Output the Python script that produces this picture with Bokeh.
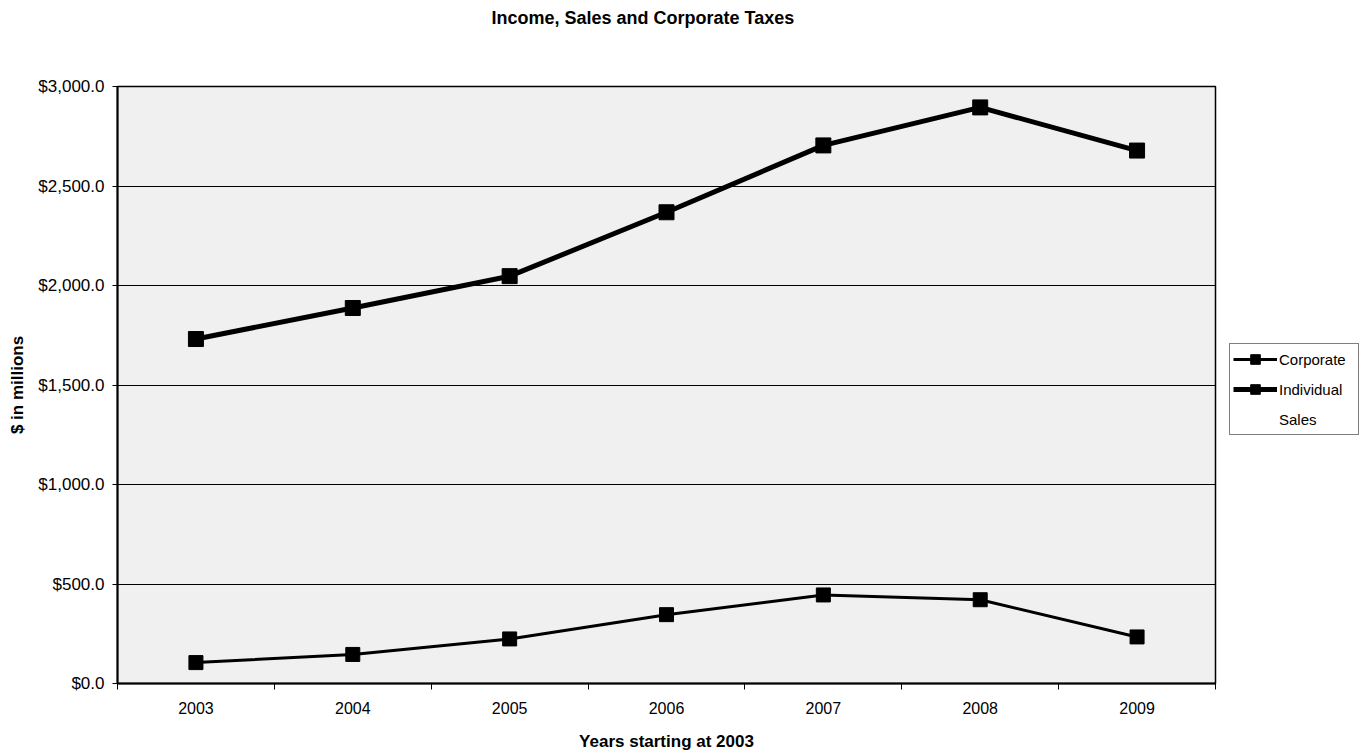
from bokeh.plotting import figure
from bokeh.layouts import row
from bokeh.models import (Range1d, FixedTicker, NumeralTickFormatter, Legend, LegendItem,
                          ColumnDataSource, Title)
from bokeh.embed import file_html
from bokeh.resources import INLINE

years = ["2003", "2004", "2005", "2006", "2007", "2008", "2009"]
corporate = [105, 146, 224, 346, 445, 421, 234]
individual = [1731, 1887, 2047, 2368, 2704, 2895, 2678]
sales = []  # not drawn in the reference chart (legend only)
y_ticks = [0, 500, 1000, 1500, 2000, 2500, 3000]
series_names = ["Corporate", "Individual", "Sales"]

xpos = [i + 0.5 for i in range(len(years))]

FONT = "Liberation Sans"

p = figure(width=1229, height=753, output_backend="svg", toolbar_location=None,
           x_range=Range1d(0, len(years)), y_range=Range1d(0, 3000),
           min_border_left=117, min_border_right=14, min_border_top=85, min_border_bottom=70,
           background_fill_color="#f0f0f0", border_fill_color="white")

# spacer between title and plot area, then the title itself (outermost)
spacer = Title(text=" ", text_font_size="1px", standoff=51)
p.add_layout(spacer, "above")
title = Title(text="Income, Sales and  Corporate Taxes", text_font=FONT, text_font_size="18px",
              text_font_style="bold", text_color="black", align="left", offset=374, standoff=10)
p.add_layout(title, "above")

p.outline_line_color = "black"
p.outline_line_width = 1.5
p.outline_line_alpha = 1.0

# X axis
p.xaxis.ticker = FixedTicker(ticks=xpos, minor_ticks=list(range(len(years) + 1)))
p.xaxis.major_label_overrides = {x: y for x, y in zip(xpos, years)}
p.xaxis.major_tick_out = 0
p.xaxis.major_tick_in = 0
p.xaxis.minor_tick_out = 6
p.xaxis.minor_tick_in = 0
p.xaxis.axis_label = "Years starting at 2003"
p.xaxis.major_label_standoff = 12
p.xaxis.axis_label_standoff = 15
p.xgrid.visible = False

# Y axis
p.yaxis.ticker = FixedTicker(ticks=y_ticks, minor_ticks=[])
p.yaxis.formatter = NumeralTickFormatter(format="$0,0.0")
p.yaxis.major_tick_out = 5
p.yaxis.major_tick_in = 0
p.yaxis.axis_label = "$ in millions"
p.yaxis.major_label_standoff = 8
p.yaxis.axis_label_standoff = 8
p.ygrid.grid_line_color = "black"
p.ygrid.grid_line_width = 1

for ax in (p.xaxis, p.yaxis):
    ax.axis_line_color = "black"
    ax.axis_line_width = 2
    ax.major_tick_line_color = "black"
    ax.minor_tick_line_color = "black"
    ax.major_label_text_font = FONT
    ax.major_label_text_color = "black"
    ax.axis_label_text_font = FONT
    ax.axis_label_text_font_size = "17px"
    ax.axis_label_text_font_style = "bold"
    ax.axis_label_text_color = "black"
p.xaxis.major_label_text_font_size = "16px"
p.yaxis.major_label_text_font_size = "17px"

src_c = ColumnDataSource(dict(x=xpos, y=corporate))
src_i = ColumnDataSource(dict(x=xpos, y=individual))
src_s = ColumnDataSource(dict(x=xpos[:len(sales)], y=sales))

STY_C = dict(line_color="black", line_width=3)
STY_I = dict(line_color="black", line_width=5)
MK_C = dict(marker="square", size=14, fill_color="black", line_color="black")
MK_I = dict(marker="square", size=15, fill_color="black", line_color="black")

p.line("x", "y", source=src_c, **STY_C)
p.scatter("x", "y", source=src_c, **MK_C)
p.line("x", "y", source=src_i, **STY_I)
p.scatter("x", "y", source=src_i, **MK_I)
p.line("x", "y", source=src_s, line_color="white", line_width=2, line_alpha=0)

# Legend panel to the right of the plot area; its renderers share the series'
# sources, but its own ranges keep the data out of view so only the legend shows.
lp = figure(width=137, height=753, output_backend="svg", toolbar_location=None,
            x_range=Range1d(0, 1), y_range=Range1d(-2, -1),
            x_axis_type=None, y_axis_type=None, min_border=0,
            outline_line_color=None, background_fill_color="white", border_fill_color="white")
lp.grid.visible = False
lc = lp.line("x", "y", source=src_c, **STY_C)
mc = lp.scatter("x", "y", source=src_c, **MK_C)
li = lp.line("x", "y", source=src_i, **STY_I)
mi = lp.scatter("x", "y", source=src_i, **MK_I)
ls = lp.line("x", "y", source=src_s, line_color="white", line_width=2, line_alpha=0)

legend = Legend(items=[
    LegendItem(label=series_names[0], renderers=[lc, mc]),
    LegendItem(label=series_names[1], renderers=[li, mi]),
    LegendItem(label=series_names[2], renderers=[ls]),
], location=(0, 248))
legend.label_text_font = FONT
legend.label_text_font_size = "15px"
legend.label_text_color = "black"
legend.border_line_color = "black"
legend.border_line_width = 1
legend.background_fill_color = "white"
legend.glyph_width = 44
legend.glyph_height = 24
legend.label_standoff = 2
legend.label_width = 76
legend.spacing = 6
legend.padding = 3
legend.margin = 0
lp.add_layout(legend, "center")

layout = row(p, lp, spacing=0)
open("out.html", "w").write(file_html(layout, INLINE))
